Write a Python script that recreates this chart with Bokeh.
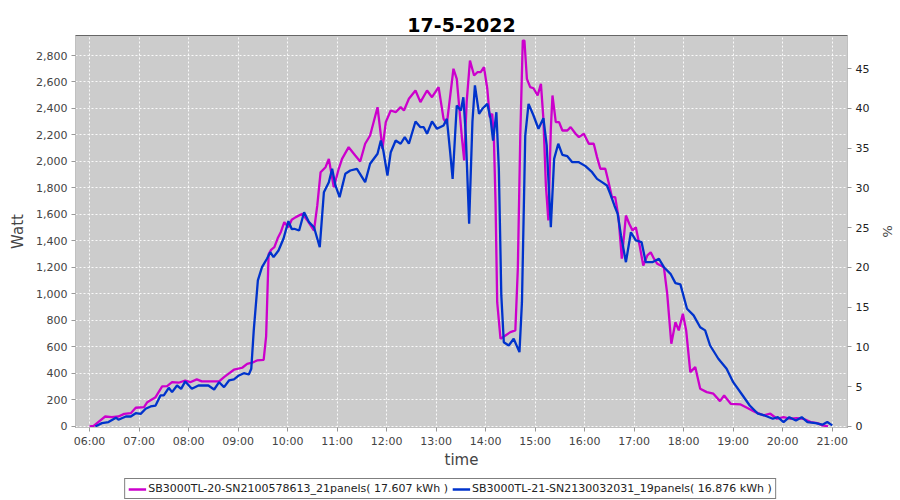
from bokeh.plotting import figure
from bokeh.layouts import column
from bokeh.models import (Range1d, LinearAxis, FixedTicker, NumeralTickFormatter,
                          Legend, LegendItem, ColumnDataSource)
from bokeh.embed import file_html
from bokeh.resources import INLINE

title_text = "17-5-2022"
x_axis_title = "time"
y_axis_title = "Watt"
y2_axis_title = "%"
x_tick_labels = ["06:00", "07:00", "08:00", "09:00", "10:00", "11:00", "12:00", "13:00",
                 "14:00", "15:00", "16:00", "17:00", "18:00", "19:00", "20:00", "21:00"]
y_ticks = [0, 200, 400, 600, 800, 1000, 1200, 1400, 1600, 1800, 2000, 2200, 2400, 2600, 2800]
y2_ticks = [0, 5, 10, 15, 20, 25, 30, 35, 40, 45]
pct_base_watt = 6000  # 100 % on the right axis

series_names = ["SB3000TL-20-SN2100578613_21panels( 17.607 kWh )",
                "SB3000TL-21-SN2130032031_19panels( 16.876 kWh )"]
series_colors = ["#CC00CC", "#0033CC"]

a_time = ["06:00", "06:05", "06:12", "06:19", "06:27", "06:35", "06:42", "06:50", "06:56", "07:06",
          "07:10", "07:20", "07:28", "07:34", "07:40", "07:48", "07:56", "08:02", "08:10", "08:16",
          "08:26", "08:37", "08:43", "08:49", "08:55", "09:05", "09:11", "09:17", "09:23", "09:31",
          "09:34", "09:37", "09:40", "09:44", "09:48", "09:52", "09:56", "10:01", "10:05", "10:10",
          "10:18", "10:24", "10:32", "10:36", "10:40", "10:46", "10:50", "10:56", "11:02", "11:06",
          "11:14", "11:22", "11:28", "11:34", "11:40", "11:49", "11:55", "11:59", "12:05", "12:11",
          "12:17", "12:21", "12:27", "12:35", "12:41", "12:49", "12:55", "13:03", "13:09", "13:13",
          "13:21", "13:25", "13:31", "13:34", "13:37", "13:41", "13:46", "13:50", "13:54", "13:58",
          "14:02", "14:05", "14:08", "14:10", "14:12", "14:14", "14:18", "14:24", "14:30", "14:36",
          "14:39", "14:42", "14:45", "14:47", "14:50", "14:54", "14:58", "15:03", "15:07", "15:10",
          "15:13", "15:16", "15:19", "15:21", "15:25", "15:29", "15:33", "15:39", "15:43", "15:49",
          "15:53", "15:59", "16:05", "16:11", "16:15", "16:19", "16:25", "16:29", "16:33", "16:37",
          "16:41", "16:45", "16:50", "16:54", "16:58", "17:02", "17:07", "17:11", "17:16", "17:20",
          "17:24", "17:28", "17:36", "17:40", "17:45", "17:50", "17:54", "17:59", "18:03", "18:08",
          "18:14", "18:20", "18:28", "18:36", "18:44", "18:49", "18:57", "19:09", "19:19", "19:27",
          "19:37", "19:45", "19:53", "20:01", "20:09", "20:17", "20:25", "20:34", "20:42", "20:48",
          "20:55"]
a_watt = [0, 5, 40, 75, 70, 75, 95, 100, 141, 146,
          183, 221, 302, 305, 334, 330, 347, 334, 355, 340,
          340, 340, 372, 400, 428, 443, 473, 481, 498, 503,
          680, 1300, 1333, 1353, 1420, 1470, 1542, 1504, 1560, 1580,
          1605, 1555, 1479, 1668, 1919, 1957, 2020, 1806, 1945, 2020,
          2108, 2045, 2000, 2134, 2196, 2410, 2096, 2297, 2385, 2372,
          2410, 2385, 2473, 2536, 2448, 2536, 2485, 2561, 2322, 2284,
          2700, 2624, 2196, 2008, 2448, 2762, 2649, 2674, 2674, 2712,
          2549, 2334, 2360, 2171, 1693, 938, 662, 687, 712, 725,
          1190, 2196, 2913, 2913, 2624, 2561, 2553, 2498, 2586, 2322,
          1819, 1555, 2247, 2498, 2297, 2297, 2234, 2234, 2259, 2209,
          2184, 2209, 2134, 2134, 2033, 1945, 1945, 1844, 1731, 1731,
          1580, 1266, 1592, 1530, 1479, 1504, 1353, 1215, 1291, 1315,
          1266, 1228, 1202, 1002, 624, 787, 725, 851, 725, 410,
          448, 285, 259, 247, 191, 234, 171, 166, 134, 108,
          83, 96, 58, 70, 58, 62, 58, 33, 25, 8,
          0]

b_time = ["06:07", "06:15", "06:23", "06:32", "06:35", "06:44", "06:50", "06:56", "07:02", "07:08",
          "07:14", "07:20", "07:26", "07:30", "07:36", "07:40", "07:46", "07:51", "07:56", "08:04",
          "08:12", "08:24", "08:31", "08:37", "08:43", "08:49", "08:55", "09:01", "09:07", "09:13",
          "09:16", "09:19", "09:24", "09:29", "09:35", "09:39", "09:43", "09:49", "09:55", "10:01",
          "10:05", "10:08", "10:14", "10:20", "10:26", "10:32", "10:39", "10:44", "10:50", "10:54",
          "10:58", "11:03", "11:10", "11:16", "11:24", "11:34", "11:40", "11:49", "11:53", "11:56",
          "12:01", "12:05", "12:11", "12:17", "12:22", "12:27", "12:35", "12:41", "12:45", "12:49",
          "12:55", "13:01", "13:09", "13:13", "13:17", "13:20", "13:25", "13:30", "13:33", "13:36",
          "13:40", "13:44", "13:47", "13:52", "13:56", "14:02", "14:06", "14:09", "14:13", "14:16",
          "14:19", "14:22", "14:28", "14:34", "14:41", "14:44", "14:48", "14:52", "14:58", "15:04",
          "15:10", "15:14", "15:19", "15:23", "15:28", "15:33", "15:39", "15:45", "15:53", "16:01",
          "16:09", "16:15", "16:21", "16:27", "16:31", "16:36", "16:40", "16:44", "16:50", "16:56",
          "17:02", "17:09", "17:14", "17:22", "17:30", "17:36", "17:44", "17:50", "17:56", "18:04",
          "18:12", "18:20", "18:26", "18:32", "18:42", "18:52", "19:00", "19:10", "19:20", "19:30",
          "19:38", "19:48", "19:54", "20:01", "20:08", "20:16", "20:23", "20:30", "20:40", "20:48",
          "20:54", "21:00"]
b_watt = [0, 25, 33, 66, 51, 75, 75, 100, 95, 134,
          151, 158, 234, 234, 292, 259, 309, 284, 340, 284,
          309, 309, 279, 334, 297, 347, 355, 385, 402, 392,
          435, 725, 1102, 1202, 1266, 1315, 1278, 1328, 1417, 1550,
          1490, 1492, 1479, 1617, 1542, 1504, 1353, 1768, 1844, 1945,
          1819, 1731, 1907, 1932, 1945, 1844, 1983, 2058, 2158, 2083,
          1894, 2070, 2158, 2134, 2184, 2134, 2302, 2259, 2259, 2209,
          2302, 2247, 2272, 2322, 2070, 1869, 2423, 2385, 2485, 2196,
          1530, 2300, 2574, 2360, 2398, 2435, 2322, 2158, 2372, 1945,
          989, 636, 611, 662, 561, 938, 2196, 2435, 2347, 2247,
          2327, 2121, 1504, 2020, 2134, 2050, 2040, 1995, 1995, 1965,
          1919, 1869, 1844, 1819, 1756, 1668, 1605, 1442, 1240, 1466,
          1404, 1391, 1240, 1240, 1266, 1202, 1152, 1082, 1072, 888,
          838, 749, 725, 611, 511, 435, 334, 247, 158, 96,
          83, 58, 70, 33, 70, 45, 70, 33, 25, 13,
          33, 8]


def to_min(s):
    h, m = s.split(":")
    return int(h) * 60 + int(m)


x_ticks = [to_min(t) for t in x_tick_labels]

src_a = ColumnDataSource(dict(x=[to_min(t) for t in a_time], y=a_watt))
src_b = ColumnDataSource(dict(x=[to_min(t) for t in b_time], y=b_watt))

y_lo, y_hi = -8, 2951
p = figure(frame_width=772, frame_height=392,
           x_range=Range1d(343, 1278.5), y_range=Range1d(y_lo, y_hi),
           output_backend="svg", toolbar_location=None,
           min_border_left=75, min_border_right=53, min_border_top=35, min_border_bottom=46,
           background_fill_color="#cccccc", border_fill_color="white",
           outline_line_color="#666666", outline_line_width=1)

p.title.text = title_text
p.title.align = "center"
p.title.text_font = "DejaVu Sans"
p.title.text_font_size = "19px"
p.title.text_font_style = "bold"
p.title.text_color = "black"
p.title.vertical_align = "top"
p.title.standoff = 4

ra = p.line("x", "y", source=src_a, line_color=series_colors[0], line_width=2.3)
rb = p.line("x", "y", source=src_b, line_color=series_colors[1], line_width=2.3)

for ax in [p.xaxis[0], p.yaxis[0]]:
    ax.axis_line_color = "#c0c0c0"
    ax.major_tick_line_color = "#999999"
    ax.major_tick_in = 0
    ax.major_tick_out = 4
    ax.minor_tick_line_color = None
    ax.major_label_text_font = "DejaVu Sans"
    ax.major_label_text_font_size = "11px"
    ax.major_label_text_color = "#444444"
    ax.axis_label_text_font = "DejaVu Sans"
    ax.axis_label_text_font_size = "15px"
    ax.axis_label_text_font_style = "normal"
    ax.axis_label_text_color = "#444444"

p.xaxis.ticker = FixedTicker(ticks=x_ticks)
p.xaxis.major_label_overrides = {t: l for t, l in zip(x_ticks, x_tick_labels)}
p.xaxis.axis_label = x_axis_title
p.xaxis.axis_label_standoff = 0
p.xaxis.major_label_standoff = 3

p.yaxis.ticker = FixedTicker(ticks=y_ticks)
p.yaxis.formatter = NumeralTickFormatter(format="0,0")
p.yaxis.axis_label = y_axis_title
p.yaxis.axis_label_standoff = 6
p.yaxis.major_label_standoff = 4

p.extra_y_ranges = {"pct": Range1d(y_lo / pct_base_watt * 100, y_hi / pct_base_watt * 100)}
ax2 = LinearAxis(y_range_name="pct", ticker=FixedTicker(ticks=y2_ticks), axis_label=y2_axis_title)
ax2.axis_line_color = "#c0c0c0"
ax2.major_tick_line_color = "#999999"
ax2.major_tick_in = 0
ax2.major_tick_out = 4
ax2.minor_tick_line_color = None
ax2.major_label_text_font = "DejaVu Sans"
ax2.major_label_text_font_size = "11px"
ax2.major_label_text_color = "#222222"
ax2.major_label_standoff = 4
ax2.axis_label_text_font = "DejaVu Sans"
ax2.axis_label_text_font_size = "13px"
ax2.axis_label_text_font_style = "normal"
ax2.axis_label_text_color = "#444444"
ax2.axis_label_standoff = 8
p.add_layout(ax2, "right")

for g, tk in [(p.xgrid[0], x_ticks), (p.ygrid[0], y_ticks)]:
    g.ticker = FixedTicker(ticks=tk)
    g.grid_line_color = "white"
    g.grid_line_dash = "2 2"
    g.grid_line_width = 1
    g.grid_line_alpha = 0.9

# Legend strip below the chart (separate tiny figure holding only the legend;
# its two proxy renderers hold a single NaN point, so they draw nothing themselves)
lg = figure(frame_width=900, frame_height=27, x_range=Range1d(0, 1), y_range=Range1d(0, 1),
            output_backend="svg", toolbar_location=None,
            min_border=0, min_border_left=0, min_border_right=0,
            min_border_top=0, min_border_bottom=0,
            background_fill_color="white", border_fill_color="white",
            outline_line_color=None)
lg.xaxis.visible = False
lg.yaxis.visible = False
lg.grid.visible = False
nan = float("nan")
la = lg.line(x=[nan], y=[nan], line_color=series_colors[0], line_width=2.3)
lb = lg.line(x=[nan], y=[nan], line_color=series_colors[1], line_width=2.3)
legend = Legend(items=[LegendItem(label=series_names[0], renderers=[la]),
                       LegendItem(label=series_names[1], renderers=[lb])],
                orientation="horizontal", location="top_center",
                border_line_color="black", border_line_width=1,
                background_fill_color="white", background_fill_alpha=1,
                label_text_font="DejaVu Sans", label_text_font_size="11px",
                label_text_color="#222222",
                glyph_width=18, glyph_height=10, label_standoff=2,
                padding=3, spacing=4, margin=5, label_height=12)
lg.add_layout(legend, "center")

layout = column(p, lg, spacing=0)
open("out.html", "w").write(file_html(layout, INLINE))
